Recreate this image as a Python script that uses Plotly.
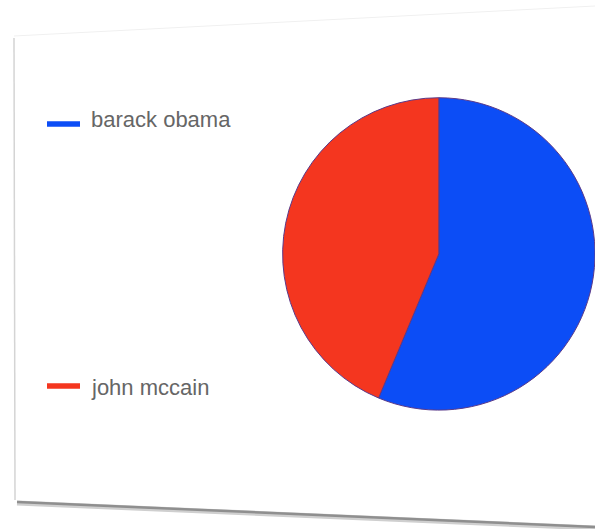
import plotly.graph_objects as go

# Vote share per candidate
candidates = ["barack obama", "john mccain"]
shares = [56.3, 43.7]
colors = ["#0c4df6", "#f4361f"]

W, H = 595, 529

fig = go.Figure()

fig.add_trace(go.Pie(
    labels=candidates,
    values=shares,
    sort=False,
    direction="clockwise",
    rotation=0,
    textinfo="none",
    hoverinfo="label+percent",
    marker=dict(colors=colors, line=dict(color="#5a3a8a", width=1)),
    domain=dict(x=[0.475, 1.0], y=[0.18, 0.86]),
    showlegend=False,
))

# Legend: colour bar + label for each candidate
legend_y = [124, 386]
text_y = [120, 387]
shapes = []
annotations = []
for name, col, y, ty in zip(candidates, colors, legend_y, text_y):
    shapes.append(dict(type="line", xref="paper", yref="paper",
                       x0=47 / W, x1=80 / W, y0=1 - y / H, y1=1 - y / H,
                       line=dict(color=col, width=5.5)))
    annotations.append(dict(text=name, xref="paper", yref="paper",
                            x=89 / W, y=1 - ty / H, xanchor="left", yanchor="middle",
                            showarrow=False,
                            font=dict(family="Liberation Sans, Arial", size=22, color="#666666")))

# Card edges: left border, faint top edge, and the shadowed bottom edge
shapes += [
    dict(type="line", xref="paper", yref="paper",
         x0=14 / W, x1=15 / W, y0=1 - 38 / H, y1=1 - 500 / H,
         line=dict(color="#d4d4d4", width=1.5)),
    dict(type="line", xref="paper", yref="paper",
         x0=14 / W, x1=1.0, y0=1 - 36 / H, y1=1 - 6 / H,
         line=dict(color="#f0f0f0", width=1)),
    dict(type="line", xref="paper", yref="paper",
         x0=17 / W, x1=1.0, y0=1 - 503 / H, y1=1 - 528 / H,
         line=dict(color="#cfcfcf", width=5)),
    dict(type="line", xref="paper", yref="paper",
         x0=17 / W, x1=1.0, y0=1 - 502 / H, y1=1 - 527 / H,
         line=dict(color="#8f8f8f", width=2.5)),
]

fig.update_layout(
    width=W, height=H,
    margin=dict(l=0, r=0, t=0, b=0),
    paper_bgcolor="white",
    plot_bgcolor="white",
    shapes=shapes,
    annotations=annotations,
)

fig.write_html("out.html")
